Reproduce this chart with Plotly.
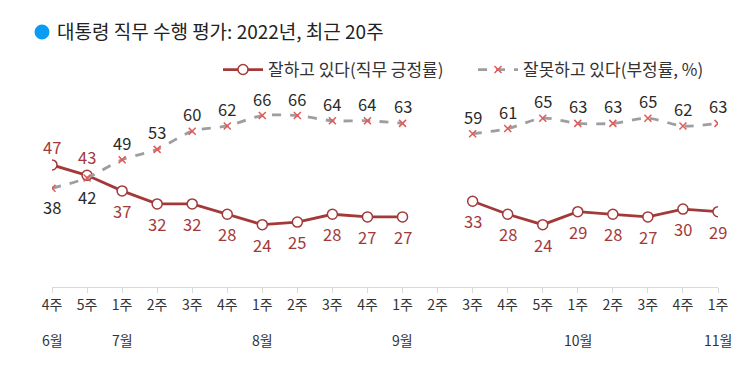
import plotly.graph_objects as go

weeks = ["4주", "5주", "1주", "2주", "3주", "4주", "1주", "2주", "3주", "4주",
         "1주", "2주", "3주", "4주", "5주", "1주", "2주", "3주", "4주", "1주"]
months = ["6월", "", "7월", "", "", "", "8월", "", "", "",
          "9월", "", "", "", "", "10월", "", "", "", "11월"]
approve = [47, 43, 37, 32, 32, 28, 24, 25, 28, 27, 27, None, 33, 28, 24, 29, 28, 27, 30, 29]
disapprove = [38, 42, 49, 53, 60, 62, 66, 66, 64, 64, 63, None, 59, 61, 65, 63, 63, 65, 62, 63]
# label placement: +1 above, -1 below
approve_pos = [1, 1] + [-1] * 18
disapprove_pos = [-1, -1] + [1] * 18

RED = "#A33A3A"
GRAY = "#9E9E9E"
XRED = "#E05A5A"
FONT = "Noto Sans CJK KR"

L, R, T, B = 52, 32, 100, 82
W, H = 750, 369
PW, PH = W - L - R, H - T - B


def px_x(p):
    return (p - L) / PW


def px_y(p):
    return (H - B - p) / PH


xs = list(range(len(weeks)))

fig = go.Figure()
fig.add_trace(go.Scatter(
    x=xs, y=approve, mode="lines+markers", name="잘하고 있다(직무 긍정률)",
    line=dict(color=RED, width=2.8),
    marker=dict(symbol="circle", size=10, color="white", line=dict(color=RED, width=1.5)),
    connectgaps=False, legend="legend",
))
fig.add_trace(go.Scatter(
    x=xs, y=disapprove, mode="lines+markers", name="잘못하고 있다(부정률, %)",
    line=dict(color=GRAY, width=2.8, dash="dash", shape="spline", smoothing=0.8),
    marker=dict(symbol="x-thin", size=7, color=XRED, line=dict(color=XRED, width=1.5)),
    connectgaps=False, legend="legend2",
))

annotations = []
for i, (v, p) in enumerate(zip(approve, approve_pos)):
    if v is None:
        continue
    annotations.append(dict(x=i, y=v, xref="x", yref="y", text=str(v), showarrow=False,
                            yshift=18 if p > 0 else -20,
                            font=dict(family=FONT, size=16.5, color=RED)))
for i, (v, p) in enumerate(zip(disapprove, disapprove_pos)):
    if v is None:
        continue
    annotations.append(dict(x=i, y=v, xref="x", yref="y", text=str(v), showarrow=False,
                            yshift=17 if p > 0 else -19,
                            font=dict(family=FONT, size=16.5, color="#2a2a2a")))
for i, m in enumerate(months):
    if m:
        annotations.append(dict(x=i, y=px_y(340), xref="x", yref="paper", text=m,
                                showarrow=False, yanchor="middle",
                                font=dict(family=FONT, size=14, color="#333333")))

legend_common = dict(orientation="h", xanchor="left", y=px_y(70), yanchor="middle",
                     font=dict(family=FONT, size=17, color="#333333"),
                     bgcolor="rgba(0,0,0,0)", itemwidth=40)

fig.update_layout(
    width=W, height=H,
    margin=dict(l=L, r=R, t=T, b=B),
    paper_bgcolor="white", plot_bgcolor="white",
    font=dict(family=FONT, color="#333333"),
    title=dict(
        text="대통령 직무 수행 평가: 2022년, 최근 20주",
        x=57 / W, xanchor="left", xref="container",
        y=1 - 32 / H, yanchor="middle", yref="container",
        font=dict(family=FONT, size=19, color="#222222"),
    ),
    shapes=[dict(type="circle", xref="paper", yref="paper",
                 xsizemode="pixel", ysizemode="pixel",
                 xanchor=px_x(42), yanchor=px_y(32),
                 x0=-7.5, x1=7.5, y0=-7.5, y1=7.5,
                 fillcolor="#0A9BF2", line=dict(width=0))],
    showlegend=True,
    legend=dict(x=px_x(218), **legend_common),
    legend2=dict(x=px_x(473), **legend_common),
    annotations=annotations,
)
fig.update_xaxes(
    range=[0, len(weeks) - 1], tickmode="array", tickvals=xs, ticktext=weeks,
    showgrid=False, zeroline=False, showline=True, linecolor="#D9D9D9", linewidth=1,
    ticks="outside", ticklen=5, tickcolor="#D9D9D9",
    tickfont=dict(family=FONT, size=14, color="#333333"),
)
fig.update_yaxes(range=[0, 72], visible=False, showgrid=False, zeroline=False)

fig.write_html("out.html", config={"displayModeBar": False},
               post_script="document.body.style.margin='0';")
